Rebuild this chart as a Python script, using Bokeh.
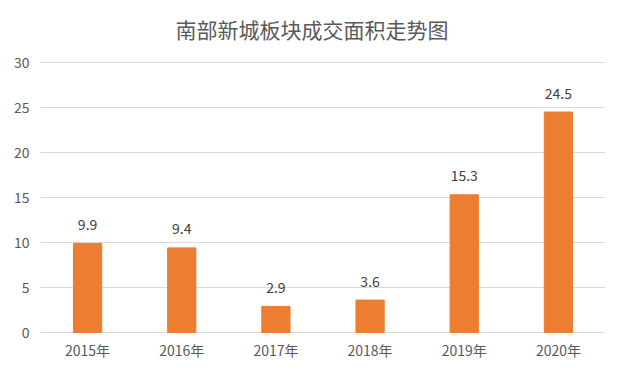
from bokeh.plotting import figure
from bokeh.models import ColumnDataSource, FactorRange, Range1d, FixedTicker, Label
from bokeh.core.properties import value
from bokeh.embed import file_html
from bokeh.resources import INLINE

years = ["2015年", "2016年", "2017年", "2018年", "2019年", "2020年"]
areas = [9.9, 9.4, 2.9, 3.6, 15.3, 24.5]
labels = ["9.9", "9.4", "2.9", "3.6", "15.3", "24.5"]
y_ticks = [0, 5, 10, 15, 20, 25, 30]

FONT = "Noto Sans CJK SC"

src = ColumnDataSource(dict(x=years, y=areas, t=labels, z=[0] * len(years)))

# frame covers the full height; 0 sits 27px above the bottom edge, 30 sits 62px below the top
p = figure(width=609, height=359, output_backend="svg", toolbar_location=None,
           x_range=FactorRange(*years), y_range=Range1d(-3, 30 + 62 / 9),
           min_border_left=40, min_border_right=4, min_border_top=0, min_border_bottom=0)
p.title = None
p.xaxis.visible = False

title = Label(x=135, y=331, x_units="screen", y_units="screen",
              text="南部新城板块成交面积走势图", text_font=FONT, text_font_size="21px",
              text_color="#595959", text_baseline="middle", text_align="left")
p.add_layout(title)

p.vbar(x="x", top="y", width=0.3, source=src, fill_color="#ED7D31", line_color="#ED7D31")
p.text(x="x", y="y", text="t", source=src, y_offset=-19, text_align="center",
       text_baseline="middle", text_font=value(FONT), text_font_size="14px",
       text_color="#404040")
p.text(x="x", y="z", text="x", source=src, y_offset=17, text_align="center",
       text_baseline="middle", text_font=value(FONT), text_font_size="14px",
       text_color="#595959")

p.outline_line_color = None
p.xgrid.grid_line_color = None
p.ygrid.grid_line_color = "#d9d9d9"
p.ygrid.grid_line_width = 1
p.ygrid.ticker = FixedTicker(ticks=y_ticks)

p.yaxis.ticker = FixedTicker(ticks=y_ticks)
p.yaxis.axis_line_color = None
p.yaxis.major_tick_line_color = None
p.yaxis.minor_tick_line_color = None
p.yaxis.major_tick_out = 0
p.yaxis.major_tick_in = 0
p.yaxis.major_label_text_font = FONT
p.yaxis.major_label_text_font_size = "14px"
p.yaxis.major_label_text_color = "#595959"
p.yaxis.major_label_standoff = 11

open("out.html", "w").write(file_html(p, INLINE))
